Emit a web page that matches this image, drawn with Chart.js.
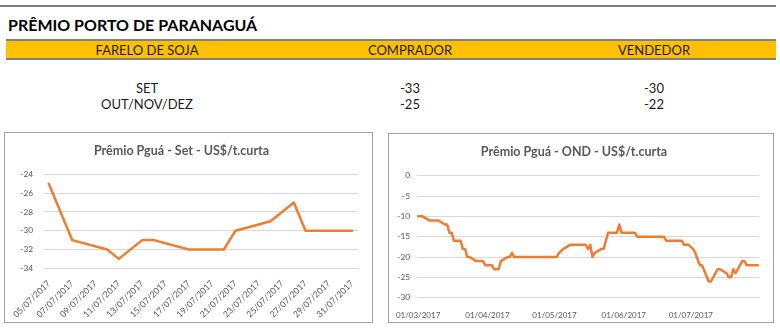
<!DOCTYPE html>
<html>
<head>
<meta charset="utf-8">
<script src="https://cdn.jsdelivr.net/npm/chart.js@4.4.1/dist/chart.umd.min.js"></script>
<style>
  html, body { margin: 0; padding: 0; background: #fff; width: 780px; height: 331px; overflow: hidden; font-family: Lato, "Open Sans", sans-serif; }
  .rule { position: absolute; height: 2px; background: #7f7f7f; }
  #heading { position: absolute; left: 8px; top: 17px; font-weight: 700; font-size: 16px; line-height: 16px; color: #000; white-space: nowrap; }
  #band { position: absolute; left: 6px; top: 41px; width: 770px; height: 17px; background: #ffc000; }
  .cell { position: absolute; transform: translate(-50%, -50%); font-size: 13px; line-height: 13px; color: #1a1a1a; white-space: nowrap; }
  .box { position: absolute; border: 1px solid #a3a3a3; box-sizing: border-box; background: #fff; }
  .box canvas { display: block; }
</style>
</head>
<body>
<div class="rule" style="left:0; top:5px; width:776px;"></div>
<div id="heading">PRÊMIO PORTO DE PARANAGUÁ</div>
<div class="rule" style="left:6px; top:39px; width:770px;"></div>
<div id="band"></div>
<div class="rule" style="left:6px; top:58px; width:770px;"></div>
<div id="table"></div>

<div class="box" style="left:4px; top:132px; width:369px; height:191px;"><canvas id="setChart" width="367" height="189"></canvas></div>
<div class="box" style="left:388px; top:133px; width:386px; height:190px;"><canvas id="ondChart" width="384" height="188"></canvas></div>

<script>
// Quote table
const tableHeaders = ['FARELO DE SOJA', 'COMPRADOR', 'VENDEDOR'];
const tableRows = ['SET', 'OUT/NOV/DEZ'];
const compradorValues = [-33, -25];
const vendedorValues = [-30, -22];

// September premium, July 2017
const setDates = ['05/07/2017', '07/07/2017', '10/07/2017', '11/07/2017', '13/07/2017', '14/07/2017',
  '17/07/2017', '20/07/2017', '21/07/2017', '24/07/2017', '26/07/2017', '27/07/2017', '31/07/2017'];
const setValues = [-25, -31, -32, -33, -31, -31, -32, -32, -30, -29, -27, -30, -30];
const setTickLabels = ['05/07/2017', '07/07/2017', '09/07/2017', '11/07/2017', '13/07/2017', '15/07/2017',
  '17/07/2017', '19/07/2017', '21/07/2017', '23/07/2017', '25/07/2017', '27/07/2017', '29/07/2017', '31/07/2017'];

// Oct/Nov/Dec premium, March to July 2017
const ondDates = ['01/03/2017', '03/03/2017', '06/03/2017', '10/03/2017', '13/03/2017', '14/03/2017',
  '15/03/2017', '16/03/2017', '17/03/2017', '20/03/2017', '21/03/2017', '22/03/2017', '23/03/2017',
  '24/03/2017', '27/03/2017', '30/03/2017', '31/03/2017', '03/04/2017', '04/04/2017', '06/04/2017',
  '07/04/2017', '10/04/2017', '11/04/2017', '12/04/2017', '13/04/2017', '02/05/2017', '03/05/2017',
  '05/05/2017', '08/05/2017', '15/05/2017', '16/05/2017', '17/05/2017', '18/05/2017', '19/05/2017',
  '22/05/2017', '23/05/2017', '25/05/2017', '29/05/2017', '30/05/2017', '31/05/2017', '06/06/2017',
  '07/06/2017', '19/06/2017', '20/06/2017', '27/06/2017', '28/06/2017', '30/06/2017', '02/07/2017',
  '03/07/2017', '05/07/2017', '06/07/2017', '09/07/2017', '10/07/2017', '13/07/2017', '14/07/2017',
  '17/07/2017', '18/07/2017', '19/07/2017', '20/07/2017', '21/07/2017', '24/07/2017', '25/07/2017',
  '26/07/2017', '31/07/2017'];
const ondValues = [-10, -10, -11, -11, -12, -12,
  -14, -14, -16, -16, -18, -18, -20,
  -20, -21, -21, -22, -22, -23, -23,
  -21, -20, -20, -19, -20, -20, -19,
  -18, -17, -17, -18, -17, -20, -19,
  -18, -18, -14, -14, -12, -14, -14,
  -15, -15, -16, -16, -17, -17, -18,
  -19, -22, -22, -26, -26, -23, -23,
  -24, -25, -25, -23, -24, -21, -21,
  -22, -22];
const ondTickLabels = ['01/03/2017', '01/04/2017', '01/05/2017', '01/06/2017', '01/07/2017'];

// ---- table ----
const colX = [147, 410, 654];
const rowY = [87.5, 103.5];
const tableEl = document.getElementById('table');
function addCell(text, x, y) {
  const d = document.createElement('div');
  d.className = 'cell';
  d.textContent = text;
  d.style.left = x + 'px';
  d.style.top = y + 'px';
  tableEl.appendChild(d);
}
tableHeaders.forEach((h, i) => addCell(h, colX[i], 50));
tableRows.forEach((r, i) => {
  addCell(r, colX[0], rowY[i]);
  addCell(String(compradorValues[i]), colX[1], rowY[i]);
  addCell(String(vendedorValues[i]), colX[2], rowY[i]);
});

// ---- charts ----
const dayNum = s => { const [d, m, y] = s.split('/').map(Number); return Date.UTC(y, m - 1, d) / 864e5; };
const FONT = 'Lato, "Open Sans", sans-serif';
const TEXT = '#595959';
const GRID = '#d9d9d9';
const LINE = '#ed7d31';

function dateLineChart(id, cfg) {
  const origin = dayNum(cfg.start);
  const points = cfg.dates.map((d, i) => ({ x: dayNum(d) - origin, y: cfg.values[i] }));
  const tickMap = new Map(cfg.tickLabels.map(l => [dayNum(l) - origin, l]));
  return new Chart(document.getElementById(id), {
    type: 'line',
    data: { datasets: [{ data: points, borderColor: LINE, borderWidth: 2.5, pointRadius: 0, tension: 0,
      borderJoinStyle: 'round', borderCapStyle: 'round' }] },
    options: {
      responsive: false, animation: false, devicePixelRatio: 1,
      layout: { padding: { left: 0, right: cfg.padRight, top: 0, bottom: 0 } },
      plugins: {
        legend: { display: false }, tooltip: { enabled: false },
        title: { display: true, text: cfg.title, color: TEXT,
          font: { family: FONT, size: 12.5, weight: 'bold', lineHeight: 1.2 },
          padding: { top: 10.5, bottom: cfg.titleGap } }
      },
      scales: {
        x: {
          type: 'linear', bounds: 'data',
          min: -0.5, max: dayNum(cfg.end) - origin + 0.5,
          afterBuildTicks: s => { s.ticks = [...tickMap.keys()].map(v => ({ value: v })); },
          afterFit: s => { s.height = cfg.xHeight; },
          grid: { display: false },
          border: { display: true, color: GRID, width: 1 },
          ticks: { autoSkip: false, minRotation: cfg.rotation, maxRotation: cfg.rotation, padding: cfg.xPad,
            color: TEXT, font: { family: FONT, size: cfg.xFont }, callback: v => tickMap.get(v) }
        },
        y: {
          min: cfg.yMin, max: cfg.yMax,
          afterFit: s => { s.width = cfg.yWidth; },
          grid: { color: GRID, lineWidth: 1, drawTicks: false },
          border: { display: false },
          ticks: { stepSize: cfg.yStep, padding: cfg.yPad, color: TEXT, font: { family: FONT, size: 8.3 } }
        }
      }
    }
  });
}

dateLineChart('setChart', {
  title: 'Prêmio Pguá - Set - US$/t.curta',
  dates: setDates, values: setValues, tickLabels: setTickLabels,
  start: '05/07/2017', end: '31/07/2017',
  yMin: -34, yMax: -24, yStep: 2,
  yWidth: 38, yPad: 10, padRight: 14, xHeight: 53.7, xPad: 2, xFont: 8.7, rotation: 45, titleGap: 15.8
});

dateLineChart('ondChart', {
  title: 'Prêmio Pguá - OND - US$/t.curta',
  dates: ondDates, values: ondValues, tickLabels: ondTickLabels,
  start: '01/03/2017', end: '31/07/2017',
  yMin: -30, yMax: 0, yStep: 5,
  yWidth: 28, yPad: 7, padRight: 14, xHeight: 24.3, xPad: 5, xFont: 8, rotation: 0, titleGap: 16.2
});
</script>
</body>
</html>
